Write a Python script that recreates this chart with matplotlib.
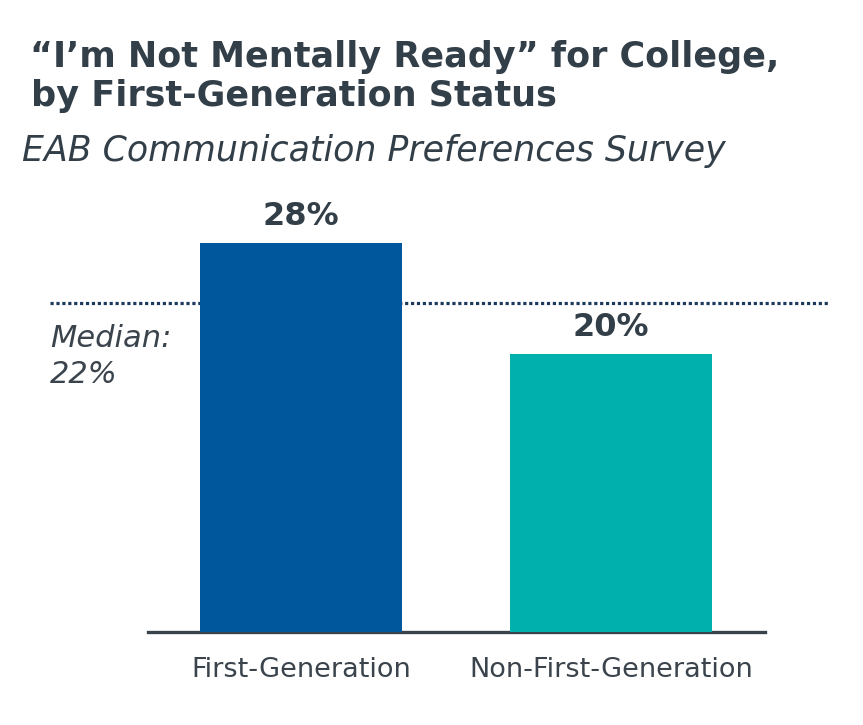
import matplotlib
matplotlib.use("Agg")
import matplotlib.pyplot as plt

categories = ["First-Generation", "Non-First-Generation"]
values = [28, 20]
median_value = 22
median_line_level = 23.7
title_lines = ["\u201cI\u2019m Not Mentally Ready\u201d for College,", "by First-Generation Status"]
subtitle = "EAB Communication Preferences Survey"

bar_colors = ["#01579b", "#00b0ad"]
text_dark = "#333f48"
grey_text = "#3b444c"

W, H = 863, 725
fig = plt.figure(figsize=(W / 100, H / 100), dpi=100)
fig.patch.set_facecolor("white")

def fx(px):
    return px / W

def fy(py):
    return 1 - py / H

ax = fig.add_axes([fx(148), fy(632), fx(765) - fx(148), fy(215) - fy(632)])
x = list(range(len(categories)))
ax.bar(x, values, width=0.652, color=bar_colors, zorder=3)
ax.set_xlim(-0.494, 1.497)
ax.set_ylim(0, 30)

for xi, v in zip(x, values):
    ax.annotate(f"{v}%", (xi, v), xytext=(0, 13), textcoords="offset points",
                ha="center", va="baseline", fontsize=23, fontweight="bold",
                color=text_dark, family="DejaVu Sans")

ax.plot([-0.81, 1.706], [median_line_level, median_line_level], color="#1c3a5c",
        linewidth=2.3, linestyle=(0, (1, 0.85)), clip_on=False, zorder=1)
ax.annotate("Median:", (-0.81, median_line_level), xytext=(0, -31.7),
            textcoords="offset points", ha="left", va="baseline",
            fontsize=22, style="italic", color=grey_text, family="DejaVu Sans",
            annotation_clip=False)
ax.annotate(f"{median_value}%", (-0.81, median_line_level), xytext=(0, -57.6),
            textcoords="offset points", ha="left", va="baseline",
            fontsize=22, style="italic", color=grey_text, family="DejaVu Sans",
            annotation_clip=False)

for s in ["top", "right", "left"]:
    ax.spines[s].set_visible(False)
ax.spines["bottom"].set_linewidth(2.4)
ax.spines["bottom"].set_color("#3a434b")
ax.set_yticks([])
ax.set_xticks(x)
ax.set_xticklabels(categories, fontsize=19.5, color=grey_text, family="DejaVu Sans")
ax.tick_params(axis="x", length=0, pad=18)

fig.text(fx(30), fy(67), title_lines[0], fontsize=25.2, fontweight="bold",
         color=text_dark, va="baseline", ha="left", family="DejaVu Sans")
fig.text(fx(31), fy(106), title_lines[1], fontsize=25.2, fontweight="bold",
         color=text_dark, va="baseline", ha="left", family="DejaVu Sans")
fig.text(fx(22), fy(161), subtitle, fontsize=25, style="italic",
         color=text_dark, va="baseline", ha="left", family="DejaVu Sans")

fig.savefig("out.png", dpi=100, facecolor="white")
